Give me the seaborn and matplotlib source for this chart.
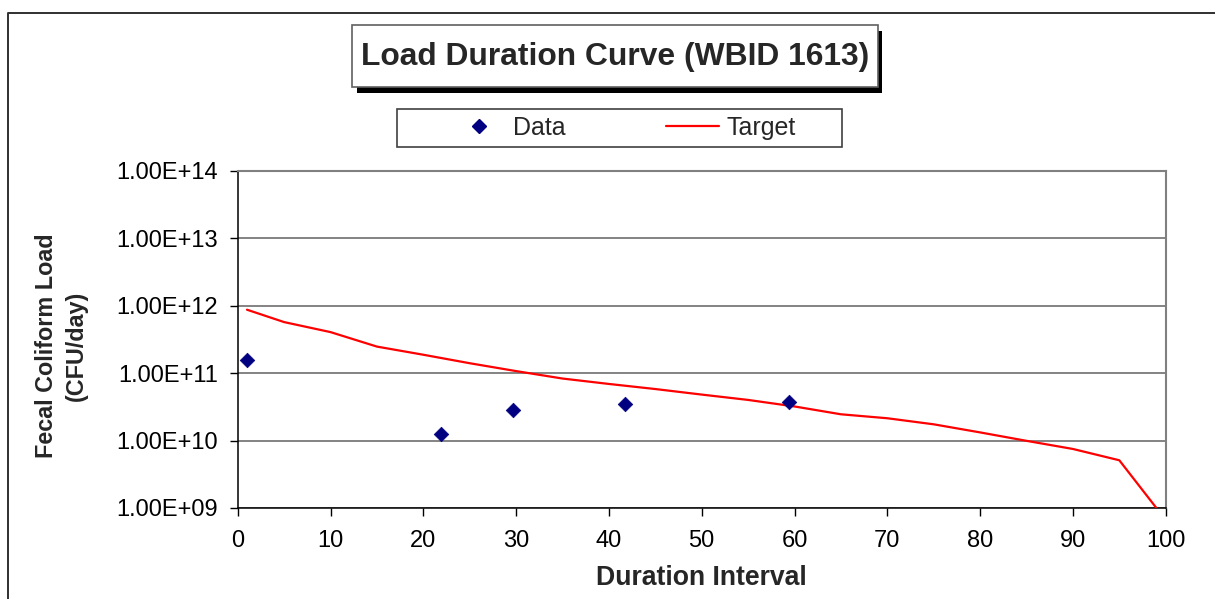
import matplotlib
matplotlib.use("Agg")
import matplotlib.pyplot as plt
import seaborn as sns
import pandas as pd
from matplotlib.ticker import FuncFormatter, NullLocator, FixedLocator
from matplotlib.patches import Rectangle
from matplotlib.lines import Line2D

# ---- data ----
data_duration = [1.0, 21.9, 29.7, 41.7, 59.4]
data_load = [1.55e11, 1.25e10, 2.85e10, 3.5e10, 3.75e10]

target_duration = [1, 5, 10, 15, 20, 25, 30, 35, 40, 45, 50, 55, 60, 65, 70,
                   75, 80, 85, 90, 95, 99]
target_load = [8.7e11, 5.7e11, 4.05e11, 2.47e11, 1.87e11, 1.4e11, 1.07e11,
               8.3e10, 6.9e10, 5.8e10, 4.8e10, 4.0e10, 3.2e10, 2.45e10,
               2.14e10, 1.74e10, 1.32e10, 9.9e9, 7.5e9, 5.1e9, 1.0e9]

x_ticks = [0, 10, 20, 30, 40, 50, 60, 70, 80, 90, 100]
y_ticks = [1e9, 1e10, 1e11, 1e12, 1e13, 1e14]

title = "Load Duration Curve (WBID 1613)"
x_label = "Duration Interval"
y_label = "Fecal Coliform Load\n(CFU/day)"

df_data = pd.DataFrame({"x": data_duration, "y": data_load})
df_target = pd.DataFrame({"x": target_duration, "y": target_load})

sns.set_style("white")
plt.rcParams["font.family"] = ["Liberation Sans", "DejaVu Sans"]

W, H = 1215, 599
fig = plt.figure(figsize=(W / 100, H / 100), dpi=100)

def fx(px):
    return px / W

def fy(py):
    return 1 - py / H

ax_l, ax_r, ax_t, ax_b = 237.7, 1165.7, 170.7, 508.0
ax = fig.add_axes([fx(ax_l), fy(ax_b), fx(ax_r - ax_l), (ax_b - ax_t) / H])

ax.set_yscale("log")
ax.set_xlim(0, 100)
ax.set_ylim(1e9, 1e14)

for yv in y_ticks:
    ax.axhline(yv, color="#6e6e6e", lw=1.2, zorder=1)

sns.lineplot(data=df_target, x="x", y="y", ax=ax, color="#ff0000", lw=1.6,
             zorder=3, legend=False)
sns.scatterplot(data=df_data, x="x", y="y", ax=ax, marker="D", s=55,
                color="#000080", edgecolor="#000080", linewidth=0.5,
                zorder=4, legend=False, clip_on=False)

ax.xaxis.set_major_locator(FixedLocator(x_ticks))
ax.yaxis.set_major_locator(FixedLocator(y_ticks))
ax.yaxis.set_minor_locator(NullLocator())
ax.yaxis.set_major_formatter(FuncFormatter(lambda v, p: f"{v:.2E}"))
ax.tick_params(axis="both", which="major", direction="out", length=5.5,
               width=1, color="black", labelsize=17, labelcolor="black")
ax.tick_params(axis="y", pad=8.5, left=True)
ax.tick_params(axis="x", pad=10.5, bottom=True)

for side in ["left", "bottom"]:
    ax.spines[side].set_color("black")
    ax.spines[side].set_linewidth(1.1)
for side in ["top", "right"]:
    ax.spines[side].set_color("#808080")
    ax.spines[side].set_linewidth(1.5)

ax.set_xlabel(x_label, fontsize=19.2, fontweight="bold", va="top")
ax.xaxis.set_label_coords(0.5, -0.168)
ax.set_ylabel(y_label, fontsize=16.8, fontweight="bold", va="center",
              linespacing=1.4, multialignment="center")
ax.yaxis.set_label_coords(-0.190, 0.48)

# outer chart frame
fig.add_artist(Line2D([fx(8), fx(8), fx(W + 5)], [fy(H + 5), fy(12.7), fy(12.7)],
                      color="#303030", lw=1.4, transform=fig.transFigure))

# title box with shadow
tb_l, tb_r, tb_t, tb_b = 352.3, 877.5, 25.0, 86.5
fig.add_artist(Rectangle((fx(tb_l + 4.5), fy(tb_b + 6)), fx(tb_r - tb_l), (tb_b - tb_t) / H,
                         transform=fig.transFigure, facecolor="black",
                         edgecolor="none", zorder=5))
fig.add_artist(Rectangle((fx(tb_l), fy(tb_b)), fx(tb_r - tb_l), (tb_b - tb_t) / H,
                         transform=fig.transFigure, facecolor="white",
                         edgecolor="#606060", lw=1.2, zorder=6))
fig.text(fx((tb_l + tb_r) / 2), fy(57.5), title, ha="center", va="center",
         fontsize=22.9, fontweight="bold", zorder=7)

# legend box
lg_l, lg_r, lg_t, lg_b = 397.3, 842.0, 109.0, 146.7
fig.add_artist(Rectangle((fx(lg_l), fy(lg_b)), fx(lg_r - lg_l), (lg_b - lg_t) / H,
                         transform=fig.transFigure, facecolor="white",
                         edgecolor="#404040", lw=1.2, zorder=5))
handles = [Line2D([], [], marker="D", linestyle="none", color="#000080",
                  markersize=7.2),
           Line2D([], [], color="#ff0000", lw=1.6)]
leg = fig.legend(handles, ["Data", "Target"], loc="center",
                 bbox_to_anchor=(fx(624), fy(128)), ncol=2, frameon=False,
                 fontsize=18, handlelength=2.12, handletextpad=0.3,
                 columnspacing=4.0)
leg.set_zorder(8)

fig.savefig("out.png", dpi=100)
